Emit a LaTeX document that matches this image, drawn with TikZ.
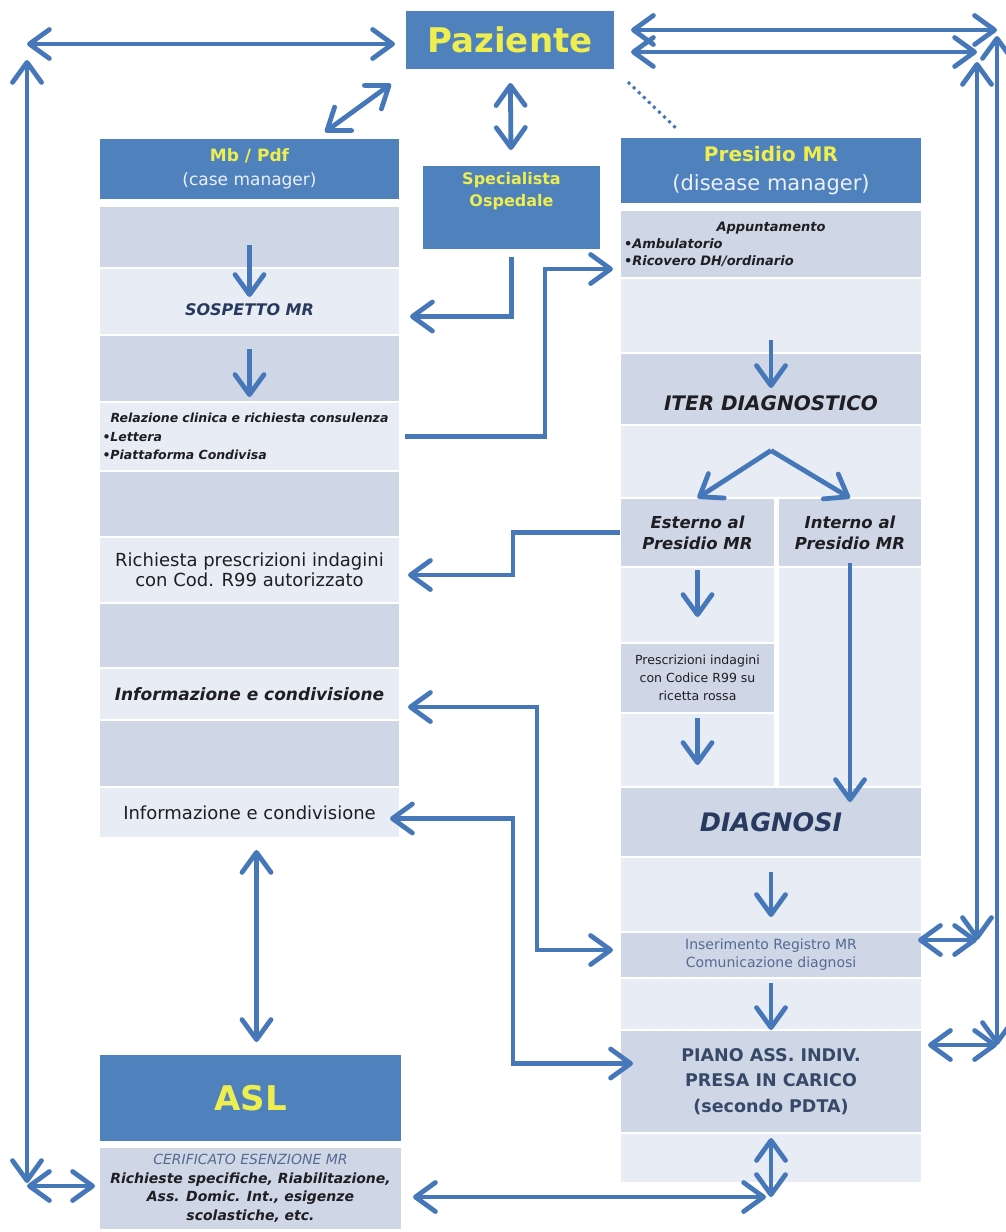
\documentclass[tikz,border=0pt]{standalone}
\usepackage{fontspec}
\setmainfont{DejaVu Sans}
\usetikzlibrary{arrows.meta, positioning}

\definecolor{hdrblue}{RGB}{79,129,189}
\definecolor{lineblue}{RGB}{70,120,185}
\definecolor{rowdark}{RGB}{207,215,230}
\definecolor{rowlight}{RGB}{232,236,244}
\definecolor{ylw}{RGB}{238,238,80}
\definecolor{hdrtxt}{RGB}{235,240,250}
\definecolor{inktxt}{RGB}{30,30,35}
\definecolor{navytxt}{RGB}{40,58,95}
\definecolor{slatetxt}{RGB}{55,72,105}
\definecolor{greytxt}{RGB}{85,105,145}

\begin{document}
\begin{tikzpicture}[
    x=1pt, y=-1pt,
    >={Straight Barb[length=20pt, width=29pt, round]},
    link/.style={draw=lineblue, line width=4.8pt},
    flow/.style={link, ->},
    dots/.style={draw=lineblue, line width=3pt, dash pattern=on 3pt off 4pt},
    box/.style={rectangle, inner sep=2pt, outer sep=0pt, draw=white, line width=1.5pt, align=center, text=inktxt},
    head/.style={box, fill=hdrblue, text=ylw, font=\bfseries},
    dark/.style={box, fill=rowdark},
    light/.style={box, fill=rowlight},
    lcol/.style={minimum width=301pt},
    rcol/.style={minimum width=302pt},
    node distance=0pt,
]

    \useasboundingbox (0,0) rectangle (1005,1232);

    % top
    \node[head, minimum width=210pt, minimum height=60pt, anchor=north west, font=\bfseries\fontsize{34}{40}\selectfont] (paz) at (405,10) {Paziente};
    \node[head, minimum width=179pt, minimum height=85pt, anchor=north west,
          label={[text=ylw, align=center, font=\bfseries\fontsize{16}{22}\selectfont, yshift=16pt]center:Specialista\\Ospedale}] (spec) at (422,165) {};

    % case manager
    \node[head, lcol, minimum height=62pt, anchor=north west, font=\bfseries\fontsize{17}{24}\selectfont] (mb) at (99,138) {Mb / Pdf\\\textcolor{hdrtxt}{\mdseries (case manager)}};
    \node[dark,  lcol, minimum height=62pt, below=6pt of mb] (l1) {};
    \node[light, lcol, minimum height=67pt, below=0pt of l1,
          label={[text=navytxt, font=\bfseries\itshape\fontsize{16}{20}\selectfont, yshift=-8pt]center:SOSPETTO MR}] (l2) {};
    \node[dark,  lcol, minimum height=67pt, below=0pt of l2] (l3) {};
    \node[light, lcol, minimum height=69pt, below=0pt of l3, text width=294pt, align=left, font=\bfseries\itshape\fontsize{12.5}{18.5}\selectfont] (l4) {\makebox[294pt]{Relazione clinica e richiesta consulenza}\\•Lettera\\•Piattaforma Condivisa};
    \node[dark,  lcol, minimum height=66pt, below=0pt of l4] (l5) {};
    \node[light, lcol, minimum height=66pt, below=0pt of l5, font=\fontsize{18}{20}\selectfont] (l6) {Richiesta prescrizioni indagini\\con Cod. R99 autorizzato};
    \node[dark,  lcol, minimum height=65pt, below=0pt of l6] (l7) {};
    \node[light, lcol, minimum height=52pt, below=0pt of l7, font=\bfseries\itshape\fontsize{17}{20}\selectfont] (l8) {Informazione e condivisione};
    \node[dark,  lcol, minimum height=67pt, below=0pt of l8] (l9) {};
    \node[light, lcol, minimum height=51pt, below=0pt of l9, font=\fontsize{18}{20}\selectfont] (l10) {Informazione e condivisione};

    % disease manager
    \node[head, rcol, minimum height=67pt, anchor=north west, font=\bfseries\fontsize{20}{29}\selectfont] (pr) at (620,137) {Presidio MR\\\textcolor{hdrtxt}{\mdseries\fontsize{21}{29}\selectfont (disease manager)}};
    \node[dark,  rcol, minimum height=68pt, below=6pt of pr, text width=294pt, align=left, font=\bfseries\itshape\fontsize{13}{17}\selectfont] (r1) {\makebox[294pt]{Appuntamento}\\•Ambulatorio\\•Ricovero DH/ordinario};
    \node[light, rcol, minimum height=75pt, below=0pt of r1] (r2) {};
    \node[dark,  rcol, minimum height=72pt, below=0pt of r2,
          label={[text=inktxt, font=\bfseries\itshape\fontsize{20}{24}\selectfont, yshift=-14pt]center:ITER DIAGNOSTICO}] (r3) {};
    \node[light, rcol, minimum height=73pt, below=0pt of r3] (r4) {};

    \node[dark,  minimum width=155pt, minimum height=69pt, anchor=north west, font=\bfseries\itshape\fontsize{16.5}{21}\selectfont] (est) at (r4.south west) {Esterno al\\Presidio MR};
    \node[dark,  minimum width=144pt, minimum height=69pt, anchor=north east, font=\bfseries\itshape\fontsize{16.5}{21}\selectfont] (int) at (r4.south east) {Interno al\\Presidio MR};
    \node[light, minimum width=155pt, minimum height=76pt, below=0pt of est] (ep1) {};
    \node[dark,  minimum width=155pt, minimum height=70pt, below=0pt of ep1, font=\fontsize{12.5}{18}\selectfont] (presc) {Prescrizioni indagini\\con Codice R99 su\\ricetta rossa};
    \node[light, minimum width=155pt, minimum height=74pt, below=0pt of presc] (ep2) {};
    \node[light, minimum width=144pt, minimum height=220pt, below=0pt of int] (ip) {};

    \node[dark,  rcol, minimum height=70pt, anchor=north west, text=navytxt, font=\bfseries\itshape\fontsize{25.5}{30}\selectfont] (dg) at (ep2.south west) {DIAGNOSI};
    \node[light, rcol, minimum height=75pt, below=0pt of dg] (r6) {};
    \node[dark,  rcol, minimum height=46pt, below=0pt of r6, text=greytxt, font=\fontsize{14}{18}\selectfont] (ins) {Inserimento Registro MR\\Comunicazione diagnosi};
    \node[light, rcol, minimum height=52pt, below=0pt of ins] (r8) {};
    \node[dark,  rcol, minimum height=103pt, below=0pt of r8, text=slatetxt, font=\bfseries\fontsize{17.5}{25.5}\selectfont] (pia) {PIANO ASS. INDIV.\\PRESA IN CARICO\\(secondo PDTA)};
    \node[light, rcol, minimum height=50pt, below=0pt of pia] (pb) {};

    % ASL
    \node[head, minimum width=303pt, minimum height=88pt, anchor=north west, font=\bfseries\fontsize{34}{40}\selectfont] (asl) at (99,1054) {ASL};
    \node[dark, minimum width=303pt, minimum height=83pt, below=5pt of asl, font=\bfseries\itshape\fontsize{14}{18.5}\selectfont] (aslb) {\textcolor{greytxt}{\mdseries CERIFICATO ESENZIONE MR}\\Richieste specifiche, Riabilitazione,\\Ass. Domic. Int., esigenze\\scolastiche, etc.};

    % corners of the outer loops
    \coordinate (tl)   at (27,44);
    \coordinate (bl)   at (27,1186);
    \coordinate (tro)  at (997,30);
    \coordinate (bro)  at (997,1045);
    \coordinate (tri)  at (977,52);
    \coordinate (bri)  at (977,940);
    \coordinate (pbot) at (771,1197);

    % outer loops
    \draw[link, <->, shorten >=10pt] (tl) -- (paz.west |- tl);
    \draw[link, <->, shorten <=16pt, shorten >=3pt] (tl) -- (bl);
    \draw[link, <->, shorten >=4pt] (bl) -- (bl -| aslb.west);
    \draw[link, <->, shorten <=16pt] (paz.east |- tro) -- (tro);
    \draw[link, <->, shorten <=6pt] (tro) -- (bro);
    \draw[link, <->, shorten >=6pt] (bro) -- (bro -| pia.east);
    \draw[link, <->, shorten <=16pt] (paz.east |- tri) -- (tri);
    \draw[link, <->, shorten <=10pt] (tri) -- (bri);
    \draw[link, <->, shorten >=-4pt] (bri) -- (bri -| ins.east);

    % around the patient
    \draw[link, <->] ([xshift=-75pt, yshift=6pt]mb.north east) -- ([xshift=-14pt, yshift=-14pt]paz.south west);
    \draw[link, <->, shorten <=13pt, shorten >=15pt] (paz) -- (spec);
    \draw[dots] ([xshift=13pt, yshift=-12pt]paz.south east) -- ([xshift=58pt, yshift=7pt]pr.north west);

    % between the columns
    \draw[link, ->, shorten >=10pt] ([yshift=-7pt]spec.south) |- ([yshift=-15pt]l2.east);
    \draw[link, ->, shorten <=5pt, shorten >=7pt] (l4.east) -- ++(145,0) |- ([yshift=-25pt]r1.west);
    \draw[link, ->, shorten >=8pt] (est.west) -- ++(-107,0) |- ([yshift=-5pt]l6.east);
    \draw[link, <->, shorten <=8pt, shorten >=7pt] ([yshift=-13pt]l8.east) -- ++(137,0) |- ([yshift=5pt]ins.west);
    \draw[link, <->, shorten <=-10pt, shorten >=-13pt] ([yshift=-6pt]l10.east) -- ++(113,0) |- ([yshift=18pt]pia.west);
    \draw[link, <->, shorten <=12pt, shorten >=12pt] ([xshift=7pt]l10.south) -- ([xshift=7pt]l10.south |- asl.north);
    \draw[link, <->, shorten <=11pt, shorten >=5pt] (pbot -| aslb.east) -- (pbot);
    \draw[link, <->, shorten <=5pt] (pia.south) -- (pbot);

    % inside the columns
    \draw[flow] ([yshift=-8pt]l1.center) -- ([yshift=-29pt]l1.south);
    \draw[flow] ([yshift=20pt]l3.center) -- ([yshift=5pt]l3.south);
    \draw[flow] ([yshift=13pt]r2.south) -- ([yshift=-35pt]r2.south);
    \draw[flow] ([yshift=11pt]r4.center) -- (est.north);
    \draw[flow] ([yshift=11pt]r4.center) -- (int.north);
    \draw[flow] ([yshift=-3pt]ep1.north) -- ([yshift=-50pt]ep1.north);
    \draw[flow] ([yshift=-5pt]ep2.north) -- ([yshift=-52pt]ep2.north);
    \draw[flow] ([yshift=4pt]int.south) -- ([yshift=-15pt]ip.south);
    \draw[flow] ([yshift=-15pt]r6.north) -- ([yshift=-60pt]r6.north);
    \draw[flow] ([yshift=-5pt]r8.north) -- (r8.south);

\end{tikzpicture}
\end{document}
